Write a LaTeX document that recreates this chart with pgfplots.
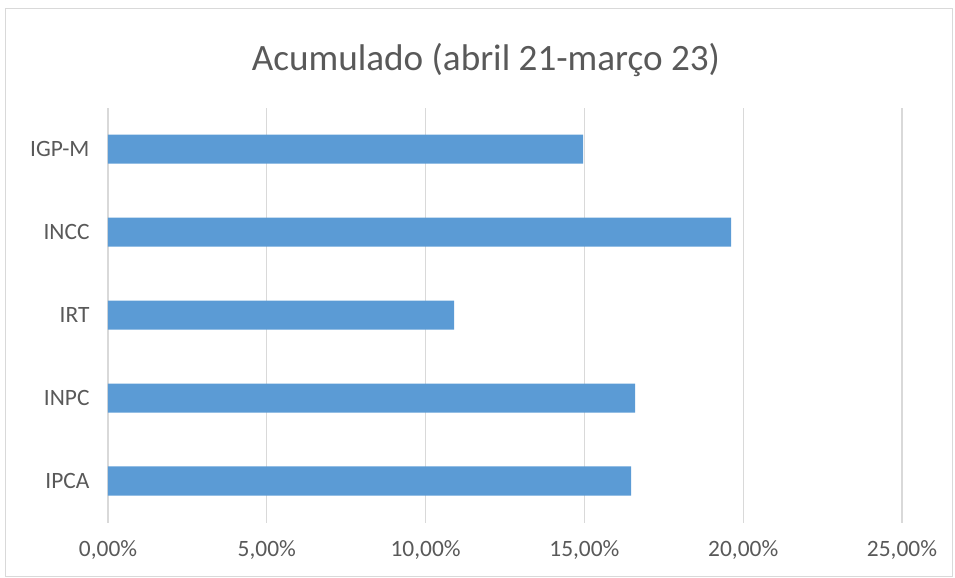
\documentclass[border=0pt]{standalone}
\usepackage{pgfplots}
\pgfplotsset{compat=1.18}
\usepackage{fontspec}
\setmainfont{Carlito}
\definecolor{barblue}{HTML}{5B9BD5}
\definecolor{gridgray}{HTML}{D9D9D9}
\definecolor{txtgray}{HTML}{595959}
\begin{document}
\begin{tikzpicture}
\path[use as bounding box] (-108bp,-55.5bp) rectangle (847bp,522.5bp);
\draw[gridgray, line width=1bp] (-102bp,-53.5bp) rectangle (844bp,513.5bp);
\begin{axis}[
  at={(0,0)}, anchor=south west,
  scale only axis, width=794bp, height=415bp,
  xbar, bar width=29bp,
  xmin=0, xmax=25, ymin=-0.5, ymax=4.5,
  xtick={0,5,10,15,20,25},
  xticklabels={{0,00\%},{5,00\%},{10,00\%},{15,00\%},{20,00\%},{25,00\%}},
  ytick={0,1,2,3,4},
  yticklabels={IPCA,INPC,IRT,INCC,IGP-M},
  xmajorgrids, grid style={gridgray, line width=1.2bp},
  axis line style={draw=none},
  major tick length=0pt,
  tick label style={font=\fontsize{23.5}{26}\selectfont, text=txtgray},
  xticklabel style={yshift=-15bp},
  yticklabel style={xshift=-15bp},
]
\addplot[fill=barblue, draw=none] coordinates {
  (16.47,0) (16.60,1) (10.90,2) (19.62,3) (14.96,4)
};
\end{axis}
\node[text=txtgray, font=\fontsize{37.3}{42}\selectfont] at (378bp,462.5bp) {Acumulado (abril 21-março 23)};
\end{tikzpicture}
\end{document}
